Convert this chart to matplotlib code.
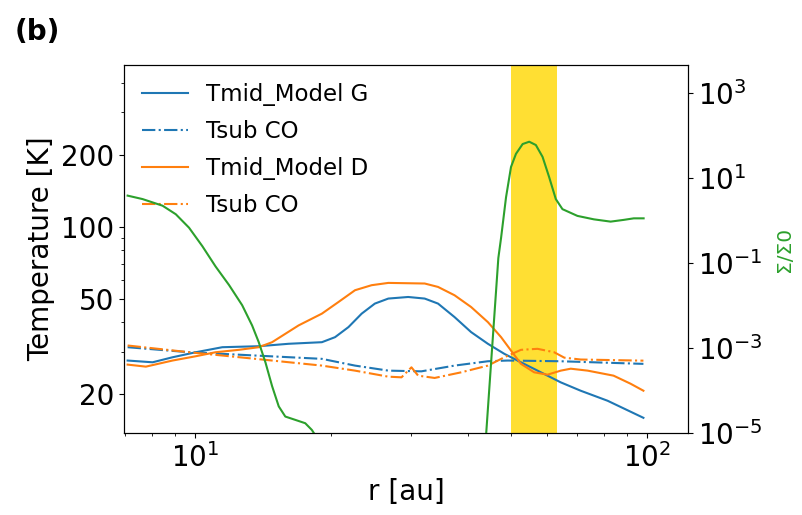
import matplotlib
matplotlib.use("Agg")
import matplotlib.pyplot as plt
from matplotlib.ticker import ScalarFormatter, NullFormatter, NullLocator

# midplane temperature, model G
r_g = [7.08, 8.04, 8.90, 10.02, 11.47, 13.81, 16.08, 19.05, 20.37, 21.81, 23.33,
       24.95, 26.72, 29.56, 32.16, 34.42, 37.44, 40.74, 44.37, 48.26, 52.52,
       57.15, 64.33, 71.18, 81.66, 98.0]
t_g = [27.53, 27.07, 28.41, 29.82, 31.30, 31.60, 32.35, 32.85, 34.48, 37.99, 43.25,
       47.64, 50.00, 50.77, 50.00, 47.64, 41.84, 36.20, 32.35, 29.36, 27.07,
       24.98, 22.31, 20.59, 18.69, 15.86]

# midplane temperature, model D
r_d = [7.08, 7.77, 8.90, 10.02, 11.08, 12.48, 13.81, 14.78, 16.92, 19.05, 20.73,
       22.55, 24.54, 26.72, 32.16, 34.42, 37.44, 40.74, 44.37, 47.46, 49.92,
       52.52, 56.17, 60.13, 64.33, 67.67, 73.76, 84.17, 91.76, 98.0]
t_d = [26.47, 25.96, 27.53, 28.69, 29.82, 30.52, 31.30, 32.85, 38.62, 43.25, 48.38,
       54.18, 56.87, 58.14, 57.80, 55.93, 51.62, 46.09, 39.86, 34.48, 30.31,
       26.66, 24.58, 24.03, 24.98, 25.45, 24.98, 23.80, 22.03, 20.59]

# CO sublimation temperature, model G
r_sg = [7.08, 9.69, 11.47, 13.58, 19.05, 22.55, 26.72, 31.62, 37.44, 44.37,
        49.09, 64.33, 98.0]
t_sg = [31.30, 29.82, 29.36, 28.89, 27.98, 26.22, 24.98, 24.81, 26.22, 27.34,
        27.53, 27.34, 26.66]

# CO sublimation temperature, model D
r_sd = [7.08, 9.69, 11.47, 13.58, 19.05, 22.55, 26.72, 28.58, 30.06, 31.10,
        33.83, 38.74, 44.37, 48.26, 52.52, 57.15, 62.19, 65.5, 71.2, 98.0]
t_sd = [31.82, 29.82, 28.89, 27.98, 26.22, 24.98, 23.57, 23.42, 25.79, 23.80,
        23.28, 24.58, 26.22, 28.41, 30.52, 30.82, 29.82, 28.3, 27.8, 27.5]

# surface density ratio
r_sig = [7.08, 7.64, 8.46, 9.05, 9.68, 10.36, 11.08, 11.87, 12.69, 13.35, 13.81,
         14.29, 14.78, 15.29, 15.81, 16.63, 17.50, 18.10, 18.41, 19.5, 43.3,
         44.0, 46.8, 47.46, 48.67, 49.92, 51.2, 52.97, 54.78, 56.66, 58.63,
         60.62, 62.72, 64.88, 70.02, 76.16, 82.91, 88.67, 93.3, 98.1]
sig = [3.87, 3.21, 2.24, 1.41, 0.681, 0.250, 0.0834, 0.0304, 0.0102, 3.40e-3,
       1.37e-3, 4.57e-4, 1.27e-4, 4.23e-5, 2.44e-5, 2.04e-5, 1.70e-5, 1.18e-5,
       8.9e-6, 1e-6, 1e-6, 1.0e-5, 0.131, 0.394, 3.53, 18.3, 37.3, 63.4, 71.9,
       60.1, 31.6, 10.6, 3.21, 1.86, 1.29, 1.07, 0.946, 1.04, 1.13, 1.13]

band = (50.0, 63.0)

fig = plt.figure(figsize=(8.03, 5.15), dpi=100)
ax = fig.add_axes([0.1544, 0.1592, 0.7024, 0.7146])

ax.axvspan(band[0], band[1], color="gold", alpha=0.8, lw=0, zorder=0)
ax.plot(r_g, t_g, color="tab:blue", lw=1.5, label="Tmid_Model G")
ax.plot(r_sg, t_sg, color="tab:blue", lw=1.5, ls="-.", label="Tsub CO")
ax.plot(r_d, t_d, color="tab:orange", lw=1.5, label="Tmid_Model D")
ax.plot(r_sd, t_sd, color="tab:orange", lw=1.5, ls="-.", label="Tsub CO")

ax.set_xscale("log")
ax.set_yscale("log")
ax.set_xlim(6.95, 123)
ax.set_ylim(13.7, 474)
ax.set_yticks([20, 50, 100, 200])
ax.yaxis.set_major_formatter(ScalarFormatter())
ax.yaxis.set_minor_formatter(NullFormatter())
ax.tick_params(labelsize=20)
ax.set_xlabel("r [au]", fontsize=20)
ax.set_ylabel("Temperature [K]", fontsize=20)
ax.legend(loc="upper left", frameon=False, fontsize=16.5,
          labelspacing=0.6, borderaxespad=0.4)

ax2 = ax.twinx()
ax2.plot(r_sig, sig, color="tab:green", lw=1.5)
ax2.set_yscale("log")
ax2.set_ylim(1e-5, 4.6e3)
ax2.set_yticks([1e-5, 1e-3, 1e-1, 1e1, 1e3])
ax2.yaxis.set_minor_locator(NullLocator())
ax2.tick_params(labelsize=20)
ax2.set_ylabel("Σ/Σ0", color="tab:green", fontsize=14.5, labelpad=9)

fig.text(0.018, 0.965, "(b)", fontsize=20, fontweight="bold", va="top")

fig.savefig("out.png", dpi=100)
